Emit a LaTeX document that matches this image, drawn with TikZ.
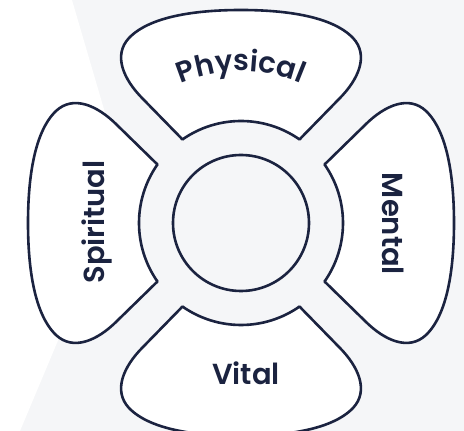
\documentclass[tikz,border=0pt]{standalone}
\usepackage{fontspec}
\usetikzlibrary{decorations.text}
\newfontfamily\labelfont{Poppins}[UprightFont=* SemiBold]

\definecolor{navy}{HTML}{1B2340}
\definecolor{backgray}{HTML}{F5F6F8}

\tikzset{
  petal/.style={draw=navy, line width=2.6pt, fill=white, line join=round},
  ring/.style={draw=navy, line width=2.6pt},
  wordlabel/.style={text=navy, inner sep=0pt, font=\labelfont\fontsize{29}{34}\selectfont},
}

\begin{document}
\begin{tikzpicture}[x=1pt,y=1pt]

    % page and faint backdrop
    \fill[backgray] (0,0) rectangle (464,431);
    \fill[white] (0,431) -- (72,431) -- (125,250) -- (20,0) -- (0,0) -- cycle;
    \useasboundingbox (0,0) rectangle (464,431);

    \begin{scope}[shift={(241,208)}]
    % four petals round the ring
    \foreach \ang in {0,90,180,270}
    \draw[petal, rotate=\ang] (55:102) -- (98,124) .. controls (118,144) and (128,168) .. (112,185) .. controls (90,208) and (40,213) .. (0,213) .. controls (-40,213) and (-90,208) .. (-112,185) .. controls (-128,168) and (-118,144) .. (-98,124) -- (125:102) arc[start angle=125, end angle=55, radius=102] -- cycle;

    % centre
    \draw[ring] (0,0) circle (68);
    \coordinate (hub) at (0,0);

    % labels
    \path[decorate, decoration={text along path, text align=center,
        text={|\labelfont\fontsize{29}{34}\selectfont\color{navy}|Physical}}]
        (150:152) arc[start angle=150, end angle=30, radius=152];
    \node[wordlabel, rotate=90] (spiritual) at (-144,1) {Spiritual};
    \node[wordlabel, rotate=-90] (mental) at (152,-1) {Mental};
    \node[wordlabel] (vital) at (5,-150) {Vital};
    \end{scope}
\end{tikzpicture}
\end{document}
